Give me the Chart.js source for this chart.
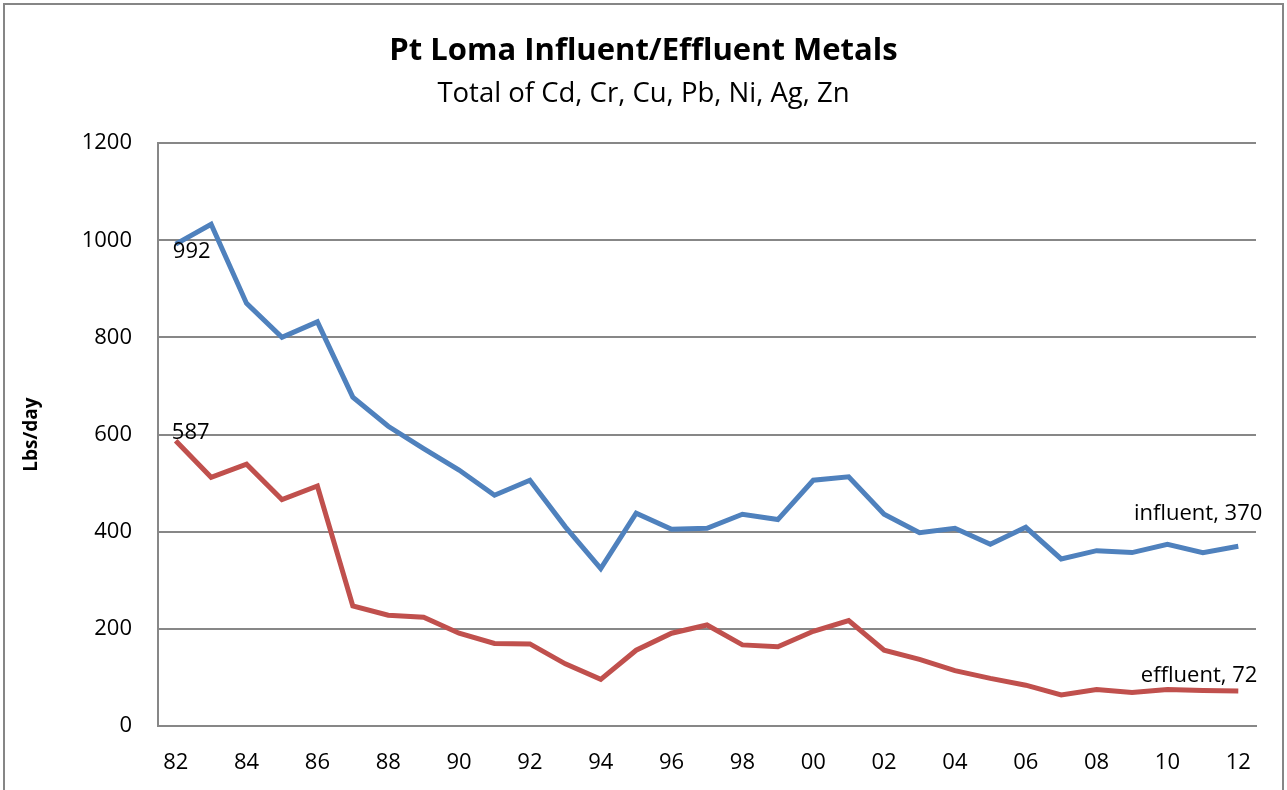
<!DOCTYPE html>
<html>
<head>
<meta charset="utf-8">
<script src="https://cdn.jsdelivr.net/npm/chart.js@4"></script>
<style>
  html, body { margin: 0; padding: 0; background: #fff; }
  #wrap { width: 1287px; height: 790px; }
</style>
</head>
<body>
<div id="wrap"><canvas id="metalsChart" width="1287" height="790"></canvas></div>
<script>
const years = ['82','83','84','85','86','87','88','89','90','91','92','93','94','95','96','97',
  '98','99','00','01','02','03','04','05','06','07','08','09','10','11','12'];
const influent = [992, 1033, 870, 800, 832, 677, 617, 571, 527, 475, 506, 410, 324, 438, 405, 407,
  436, 425, 506, 513, 436, 398, 407, 374, 409, 344, 361, 357, 374, 357, 370];
const effluent = [587, 512, 539, 466, 494, 247, 228, 224, 191, 170, 169, 128, 96, 156, 191, 208,
  167, 163, 195, 217, 156, 137, 114, 98, 84, 64, 75, 69, 75, 73, 72];
const yTicks = [0, 200, 400, 600, 800, 1000, 1200];

const FONT = '"Open Sans", Lato, sans-serif';
const GRID = '#878787';

// point labels: [dataset, index, text, dx, dy, align]
const pointLabels = [
  [0, 0, '992', 16, 8, 'center'],
  [1, 0, '587', 15, -8, 'center'],
  [0, years.length - 1, 'influent, 370', 24, -33, 'right'],
  [1, years.length - 1, 'effluent, 72', 19, -15, 'right']
];

const extras = {
  id: 'extras',
  afterDraw(chart) {
    const ctx = chart.ctx;
    ctx.save();
    ctx.font = '22px ' + FONT;
    ctx.fillStyle = '#000';
    ctx.textBaseline = 'middle';
    pointLabels.forEach(([ds, i, text, dx, dy, align]) => {
      const pt = chart.getDatasetMeta(ds).data[i];
      ctx.textAlign = align;
      ctx.fillText(text, pt.x + dx, pt.y + dy);
    });
    // outer frame
    ctx.strokeStyle = '#868686';
    ctx.lineWidth = 2;
    ctx.strokeRect(4, 4, 1279, 800);
    ctx.restore();
  }
};

new Chart(document.getElementById('metalsChart'), {
  type: 'line',
  data: {
    labels: years,
    datasets: [
      { label: 'influent', data: influent, borderColor: '#4F81BD', borderWidth: 5, pointRadius: 0, tension: 0 },
      { label: 'effluent', data: effluent, borderColor: '#C0504D', borderWidth: 5, pointRadius: 0, tension: 0 }
    ]
  },
  options: {
    responsive: false,
    animation: false,
    layout: { padding: 0 },
    plugins: {
      legend: { display: false },
      tooltip: { enabled: false },
      title: {
        display: true,
        text: 'Pt Loma Influent/Effluent Metals',
        color: '#000',
        font: { family: FONT, size: 31, weight: 'bold' },
        padding: { top: 33, bottom: 0 }
      },
      subtitle: {
        display: true,
        text: 'Total of Cd, Cr, Cu, Pb, Ni, Ag, Zn',
        color: '#000',
        font: { family: FONT, size: 27.5 },
        padding: { top: 7.5, bottom: 32.4 }
      }
    },
    scales: {
      x: {
        offset: true,
        grid: { display: false },
        border: { display: true, color: GRID, width: 2 },
        ticks: {
          color: '#000',
          font: { family: FONT, size: 22 },
          padding: 16,
          autoSkip: false,
          maxRotation: 0,
          callback: (v, i) => (i % 2 === 0 ? years[i] : '')
        },
        afterFit: s => { s.height = 64; }
      },
      y: {
        min: 0,
        max: 1200,
        afterBuildTicks: s => { s.ticks = yTicks.map(v => ({ value: v })); },
        grid: { color: GRID, lineWidth: 2, drawTicks: false },
        border: { display: true, color: GRID, width: 2 },
        ticks: {
          color: '#000',
          font: { family: FONT, size: 22 },
          padding: 26,
          callback: v => String(v)
        },
        title: {
          display: true,
          text: 'Lbs/day',
          color: '#000',
          font: { family: FONT, size: 19, weight: 'bold' },
          padding: { top: 20, bottom: 0 }
        },
        afterFit: s => { s.width = 158; }
      },
      // empty right-hand margin so the titles stay centred on the page
      yRight: {
        position: 'right',
        grid: { display: false },
        border: { display: false },
        ticks: { display: false },
        afterFit: s => { s.width = 31; }
      }
    }
  },
  plugins: [extras]
});
</script>
</body>
</html>
